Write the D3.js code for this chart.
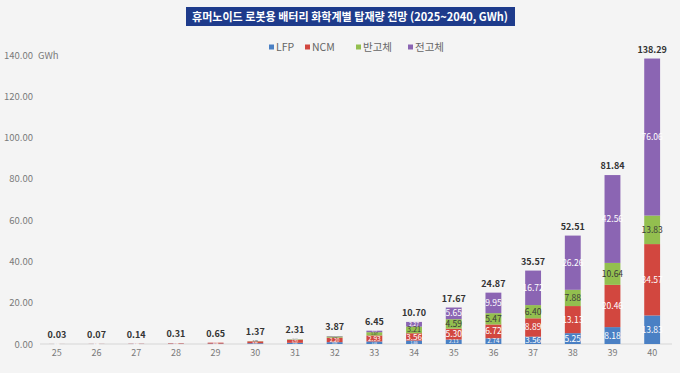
<!DOCTYPE html>
<html>
<head>
<meta charset="utf-8">
<script src="https://cdn.jsdelivr.net/npm/d3@7"></script>
<style>
  body { margin: 0; background: #f4f4f4; }
  svg { font-family: "Noto Sans CJK KR", "Noto Sans", sans-serif; }
</style>
</head>
<body>
<div id="chart"></div>
<script>
// chart data
const years = ["25","26","27","28","29","30","31","32","33","34","35","36","37","38","39","40"];
const seriesNames = ["LFP", "NCM", "반고체", "전고체"];
const lfp  = [0.01, 0.02, 0.04, 0.09, 0.19, 0.37, 0.58, 0.89, 1.22, 1.66, 2.13, 2.74, 3.56, 5.25, 8.18, 13.83];
const ncm  = [0.02, 0.05, 0.10, 0.22, 0.46, 0.91, 1.45, 2.20, 2.93, 3.56, 5.30, 6.72, 8.89, 13.13, 20.46, 34.57];
const semi = [0.00, 0.00, 0.00, 0.00, 0.00, 0.09, 0.23, 0.58, 1.57, 3.21, 4.59, 5.47, 6.40, 7.88, 10.64, 13.83];
const solid= [0.00, 0.00, 0.00, 0.00, 0.00, 0.00, 0.05, 0.20, 0.73, 2.27, 5.65, 9.95, 16.72, 26.26, 42.56, 76.06];
const totals = [0.03, 0.07, 0.14, 0.31, 0.65, 1.37, 2.31, 3.87, 6.45, 10.70, 17.67, 24.87, 35.57, 52.51, 81.84, 138.29];
const yTicks = [0, 20, 40, 60, 80, 100, 120, 140];

const width = 680, height = 373;
const colors = ["#4a80c4", "#d2473f", "#93bf4f", "#8b65b3"];
const labelColors = ["#ffffff", "#ffffff", "#3a3a3a", "#ffffff"];

const svg = d3.select("#chart").append("svg")
    .attr("width", width)
    .attr("height", height);

svg.append("rect").attr("width", width).attr("height", height).attr("fill", "#f4f4f4");

// title banner
svg.append("rect")
    .attr("x", 186).attr("y", 7)
    .attr("width", 329).attr("height", 19)
    .attr("fill", "#1e3b8b");
svg.append("text")
    .attr("x", 192).attr("y", 20.5)
    .attr("fill", "#fff")
    .attr("font-size", "11.5px")
    .attr("font-weight", "bold")
    .attr("textLength", 316)
    .attr("lengthAdjust", "spacingAndGlyphs")
    .text("휴머노이드 로봇용  배터리 화학계별 탑재량 전망 (2025~2040, GWh)");

// scales
const x = d3.scaleBand().domain(years).range([37, 672]).paddingInner(0.6).paddingOuter(0.3);
const y = d3.scaleLinear().domain([0, 140]).range([344, 55]);

// y axis labels
svg.append("g").selectAll("text")
    .data(yTicks).join("text")
    .attr("x", 33).attr("y", d => y(d) + 3.5)
    .attr("text-anchor", "end")
    .attr("fill", "#7a7a7a")
    .attr("font-size", "9.5px")
    .text(d => d3.format(".2f")(d));

svg.append("text")
    .attr("x", 38).attr("y", y(140) + 3.5)
    .attr("fill", "#7a7a7a")
    .attr("font-size", "9.5px")
    .text("GWh");

// baseline
svg.append("line")
    .attr("x1", 40).attr("x2", 672)
    .attr("y1", y(0)).attr("y2", y(0))
    .attr("stroke", "#d6d6d6");

// stacked data
const table = years.map((yr, i) => ({ year: yr, LFP: lfp[i], NCM: ncm[i], "반고체": semi[i], "전고체": solid[i] }));
const stack = d3.stack().keys(seriesNames)(table);

const layers = svg.append("g").selectAll("g")
    .data(stack).join("g")
    .attr("fill", (d, i) => colors[i]);

layers.selectAll("rect")
    .data(d => d).join("rect")
    .attr("x", d => x(d.data.year))
    .attr("y", d => y(d[1]))
    .attr("width", x.bandwidth())
    .attr("height", d => y(d[0]) - y(d[1]));

// segment labels, shrunk to fit thin segments
const segFont = d => Math.max(2.5, Math.min(8.5, (y(d[0]) - y(d[1])) * 1.1));
svg.append("g").selectAll("g")
    .data(stack).join("g")
    .each(function(layer, i) {
        d3.select(this).selectAll("text")
            .data(layer.filter(d => d[1] - d[0] > 0)).join("text")
            .attr("x", d => x(d.data.year) + x.bandwidth() / 2)
            .attr("y", d => (y(d[0]) + y(d[1])) / 2 + segFont(d) * 0.35)
            .attr("text-anchor", "middle")
            .attr("fill", labelColors[i])
            .attr("font-size", d => segFont(d) + "px")
            .text(d => d3.format(".2f")(d[1] - d[0]));
    });

// totals
svg.append("g").selectAll("text")
    .data(years).join("text")
    .attr("x", d => x(d) + x.bandwidth() / 2)
    .attr("y", (d, i) => y(totals[i]) - 6)
    .attr("text-anchor", "middle")
    .attr("fill", "#333")
    .attr("font-size", "9px")
    .attr("font-weight", "bold")
    .text((d, i) => d3.format(".2f")(totals[i]));

// x labels
svg.append("g").selectAll("text")
    .data(years).join("text")
    .attr("x", d => x(d) + x.bandwidth() / 2)
    .attr("y", 356)
    .attr("text-anchor", "middle")
    .attr("fill", "#7a7a7a")
    .attr("font-size", "9px")
    .text(d => d);

// legend
const legendX = [269, 305, 356, 408];
const legend = svg.append("g").selectAll("g")
    .data(seriesNames).join("g")
    .attr("transform", (d, i) => `translate(${legendX[i]},47)`);
legend.append("rect")
    .attr("x", 0).attr("y", -2.5)
    .attr("width", 5).attr("height", 5)
    .attr("fill", (d, i) => colors[i]);
legend.append("text")
    .attr("x", 7).attr("y", 4)
    .attr("fill", "#666")
    .attr("font-size", "10.5px")
    .text(d => d);
</script>
</body>
</html>
